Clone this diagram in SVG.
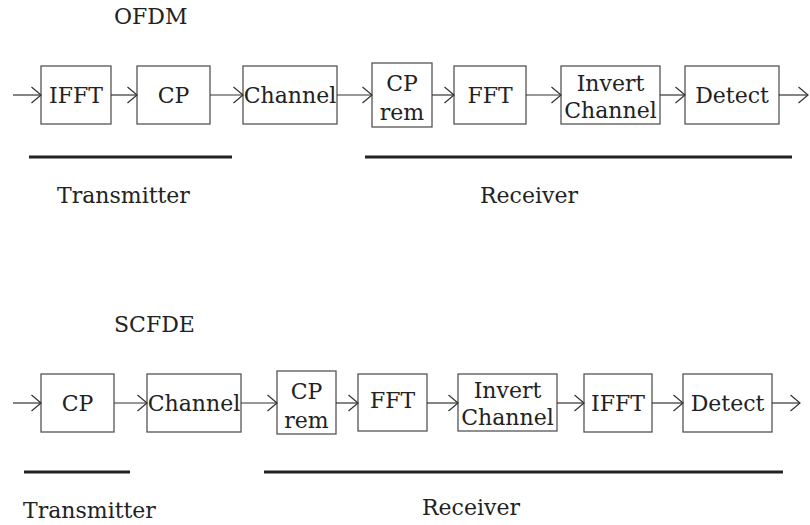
<svg xmlns="http://www.w3.org/2000/svg" width="810" height="525" viewBox="0 0 810 525">
<defs>
<marker id="arr" markerUnits="userSpaceOnUse" markerWidth="14" markerHeight="20" refX="11" refY="9" orient="auto" overflow="visible">
<path d="M1.5,1 L11,9 L1.5,17" fill="none" stroke="#333" stroke-width="1.2"/>
</marker>
<style>
.box{fill:#fff;stroke:#555;stroke-width:1.3}
.t{font-family:"DejaVu Serif","Liberation Serif",serif;font-size:22px;fill:#222;text-anchor:middle}
.l{font-family:"DejaVu Serif","Liberation Serif",serif;font-size:22px;fill:#222}
.c{stroke:#333;stroke-width:1.2;fill:none;marker-end:url(#arr)}
.bar{stroke:#222;stroke-width:3}
</style>
</defs>
<rect width="810" height="525" fill="#fff"/>
<text class="l" x="114" y="24">OFDM</text>
<g id="o-ifft"><rect class="box" x="41" y="66" width="70" height="58"/><text class="t" x="76" y="103">IFFT</text></g>
<g id="o-cp"><rect class="box" x="137" y="66" width="73" height="58"/><text class="t" x="173.5" y="103">CP</text></g>
<g id="o-channel"><rect class="box" x="243" y="66" width="94" height="58"/><text class="t" x="290" y="103">Channel</text></g>
<g id="o-cprem"><rect class="box" x="372" y="63" width="60" height="64"/><text class="t" x="402" y="91">CP</text><text class="t" x="402" y="120">rem</text></g>
<g id="o-fft"><rect class="box" x="454" y="66" width="72" height="58"/><text class="t" x="490" y="103">FFT</text></g>
<g id="o-inv"><rect class="box" x="561" y="66" width="99" height="58"/><text class="t" x="610.5" y="91">Invert</text><text class="t" x="610.5" y="118">Channel</text></g>
<g id="o-detect"><rect class="box" x="685" y="66" width="94" height="58"/><text class="t" x="732" y="103">Detect</text></g>
<line class="bar" x1="29" y1="157" x2="232" y2="157"/>
<line class="bar" x1="365" y1="157" x2="792" y2="157"/>
<text class="l" x="57" y="203">Transmitter</text>
<text class="l" x="480" y="203">Receiver</text>

<text class="l" x="114" y="332">SCFDE</text>
<g id="s-cp"><rect class="box" x="41" y="374" width="73" height="58"/><text class="t" x="77.5" y="411">CP</text></g>
<g id="s-channel"><rect class="box" x="147" y="374" width="94" height="58"/><text class="t" x="194" y="411">Channel</text></g>
<g id="s-cprem"><rect class="box" x="277" y="371" width="59" height="63"/><text class="t" x="306.5" y="399">CP</text><text class="t" x="306.5" y="428">rem</text></g>
<g id="s-fft"><rect class="box" x="358" y="374" width="69" height="57"/><text class="t" x="392.5" y="408">FFT</text></g>
<g id="s-inv"><rect class="box" x="458" y="374" width="99" height="57"/><text class="t" x="507.5" y="398">Invert</text><text class="t" x="507.5" y="425">Channel</text></g>
<g id="s-ifft"><rect class="box" x="584" y="374" width="68" height="58"/><text class="t" x="618" y="411">IFFT</text></g>
<g id="s-detect"><rect class="box" x="683" y="374" width="89" height="58"/><text class="t" x="727.5" y="411">Detect</text></g>
<line class="bar" x1="24" y1="472" x2="130" y2="472"/>
<line class="bar" x1="264" y1="472" x2="783" y2="472"/>
<text class="l" x="23" y="518">Transmitter</text>
<text class="l" x="422" y="515">Receiver</text>

<g id="connectors">
<line class="c" x1="13" y1="95" x2="41" y2="95"/>
<line class="c" x1="111" y1="95" x2="137" y2="95"/>
<line class="c" x1="210" y1="95" x2="243" y2="95"/>
<line class="c" x1="337" y1="95" x2="372" y2="95"/>
<line class="c" x1="432" y1="95" x2="454" y2="95"/>
<line class="c" x1="526" y1="95" x2="561" y2="95"/>
<line class="c" x1="660" y1="95" x2="685" y2="95"/>
<line class="c" x1="779" y1="95" x2="808" y2="95"/>
<line class="c" x1="13" y1="403" x2="41" y2="403"/>
<line class="c" x1="114" y1="403" x2="147" y2="403"/>
<line class="c" x1="241" y1="403" x2="277" y2="403"/>
<line class="c" x1="336" y1="403" x2="358" y2="403"/>
<line class="c" x1="427" y1="403" x2="458" y2="403"/>
<line class="c" x1="557" y1="403" x2="584" y2="403"/>
<line class="c" x1="652" y1="403" x2="683" y2="403"/>
<line class="c" x1="772" y1="403" x2="800" y2="403"/>
</g>
</svg>
